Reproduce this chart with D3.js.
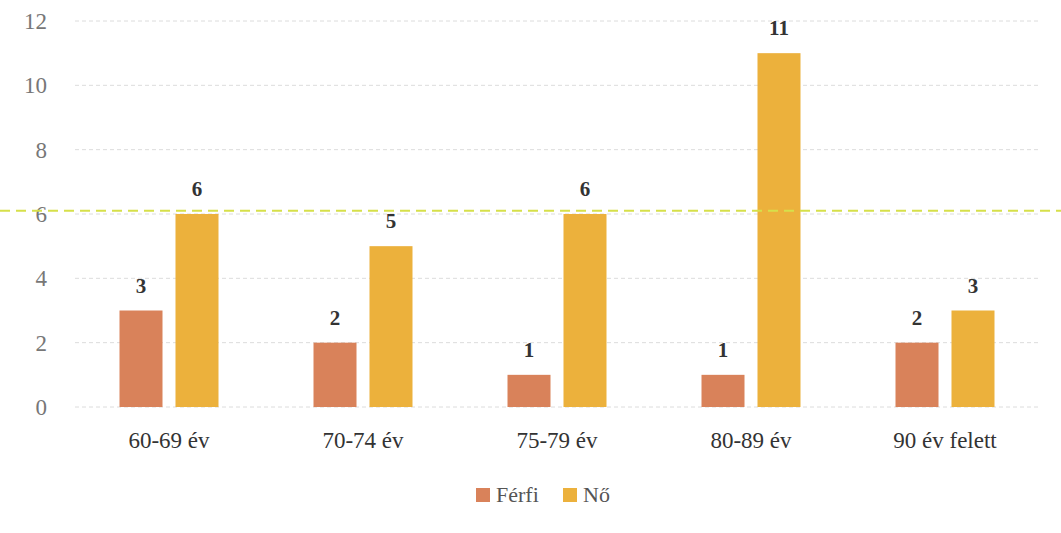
<!DOCTYPE html>
<html>
<head>
<meta charset="utf-8">
<script src="https://cdn.jsdelivr.net/npm/d3@7"></script>
<style>
  body { margin: 0; background: #fff; }
  svg text { font-family: "Liberation Serif", "DejaVu Serif", serif; }
</style>
</head>
<body>
<svg id="chart" width="1061" height="533"></svg>
<script>
// données
var categories = ["60-69 év", "70-74 év", "75-79 év", "80-89 év", "90 év felett"];
var series = ["Férfi", "Nő"];
var ferfi = [3, 2, 1, 1, 2];
var no = [6, 5, 6, 11, 3];
var yTicks = [0, 2, 4, 6, 8, 10, 12];
var colors = ["#d9825a", "#ecb13c"];

var svg = d3.select("#chart");

var x = d3.scaleBand()
  .domain(categories)
  .range([72, 1042]);

// deux barres par groupe, centrées dans la bande
var xSub = d3.scaleBand()
  .domain(series)
  .range([x.bandwidth() / 2 - 49.5, x.bandwidth() / 2 + 49.5])
  .paddingInner(0.232)
  .paddingOuter(0);

var y = d3.scaleLinear()
  .domain([0, 12])
  .range([407, 21]);

// lignes de grille (pointillés gris clair)
svg.append("g")
  .selectAll("line")
  .data(yTicks)
  .join("line")
    .attr("x1", 75)
    .attr("x2", 1040)
    .attr("y1", d => y(d))
    .attr("y2", d => y(d))
    .attr("stroke", "#dcdcdc")
    .attr("stroke-width", 1)
    .attr("stroke-dasharray", "4,3");

// axe y
var yAxis = d3.axisLeft(y).tickValues(yTicks).tickSize(0).tickPadding(0);
var gy = svg.append("g")
  .attr("transform", "translate(47,0)")
  .call(yAxis);
gy.select(".domain").remove();
gy.selectAll("text")
  .attr("font-size", 23)
  .attr("fill", "#777")
  .attr("font-family", "Liberation Serif, serif");

// barres
var data = categories.map((c, i) => ({cat: c, values: [ferfi[i], no[i]]}));

var groups = svg.append("g")
  .selectAll("g")
  .data(data)
  .join("g")
    .attr("transform", d => `translate(${x(d.cat)},0)`);

groups.selectAll("rect")
  .data(d => d.values.map((v, j) => ({name: series[j], value: v})))
  .join("rect")
    .attr("x", d => xSub(d.name))
    .attr("width", xSub.bandwidth())
    .attr("y", d => y(d.value))
    .attr("height", d => y(0) - y(d.value))
    .attr("fill", (d, j) => colors[j]);

// étiquettes de valeurs
groups.selectAll("text.val")
  .data(d => d.values.map((v, j) => ({name: series[j], value: v})))
  .join("text")
    .attr("class", "val")
    .attr("x", d => xSub(d.name) + xSub.bandwidth() / 2)
    .attr("y", d => y(d.value) - 18)
    .attr("text-anchor", "middle")
    .attr("font-size", 21)
    .attr("font-weight", "bold")
    .attr("fill", "#333")
    .text(d => d.value);

// axe x
var xAxis = d3.axisBottom(x).tickSize(0).tickPadding(0);
var gx = svg.append("g")
  .attr("transform", "translate(0,432)")
  .call(xAxis);
gx.select(".domain").remove();
gx.selectAll("text")
  .attr("font-size", 23)
  .attr("fill", "#333")
  .attr("font-family", "Liberation Serif, serif");

// ligne jaune-vert (trait du scan)
svg.append("line")
  .attr("x1", 0)
  .attr("x2", 1061)
  .attr("y1", y(6.1))
  .attr("y2", y(6.1))
  .attr("stroke", "#d6e04a")
  .attr("stroke-width", 2)
  .attr("stroke-dasharray", "10,6");

// légende
var legendX = [476, 563];
var legend = svg.append("g")
  .selectAll("g")
  .data(series)
  .join("g")
    .attr("transform", (d, i) => `translate(${legendX[i]},488)`);

legend.append("rect")
  .attr("width", 14)
  .attr("height", 14)
  .attr("fill", (d, i) => colors[i]);

legend.append("text")
  .attr("x", 20)
  .attr("y", 14)
  .attr("font-size", 22)
  .attr("fill", "#555")
  .text(d => d);
</script>
</body>
</html>
